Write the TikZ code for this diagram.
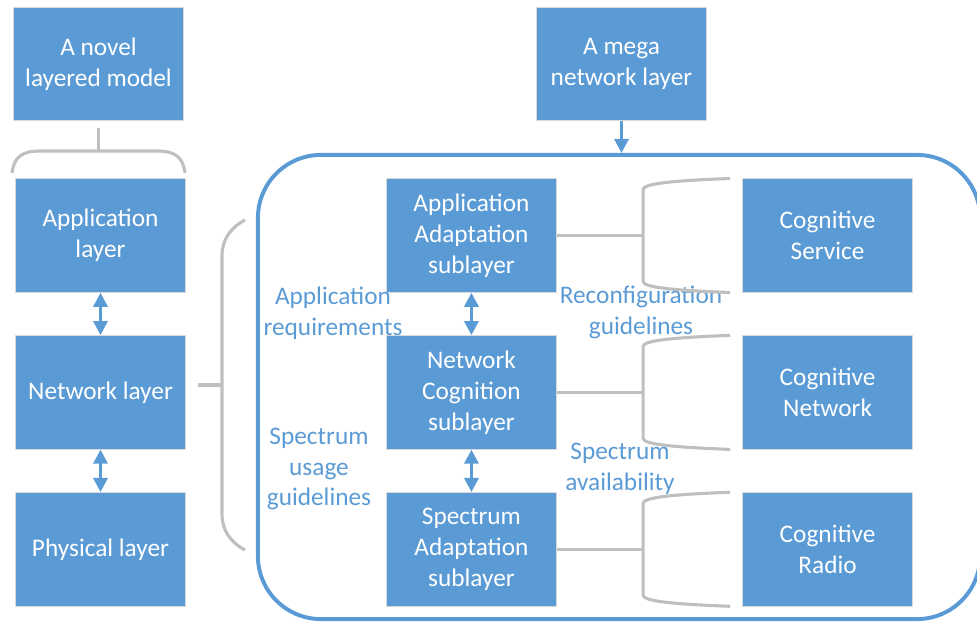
\documentclass[tikz,border=0pt]{standalone}
\usepackage{fontspec}
\setmainfont{Carlito}
\usetikzlibrary{positioning, calc}
\usetikzlibrary{arrows.meta}

\begin{document}
\begin{tikzpicture}[x=0.025cm, y=-0.025cm, node distance=1.06cm, font=\fontsize{18}{22}\selectfont, align=center, >={Triangle[width=10pt,length=10pt]}, line width=2.2pt,
    layerbox/.style={draw=gray!30, line width=0.6pt, fill=boxblue, text=white, minimum width=4.26cm, minimum height=2.84cm},
    note/.style={text=boxblue}]
        % Define colors
        \definecolor{boxblue}{RGB}{91,155,213}
        \definecolor{bracegray}{RGB}{191,191,191}

        \useasboundingbox (0,0) rectangle (977,622);

        % Frame of the mega layer
        \node[draw=boxblue, line width=2.8pt, rounded corners=1.575cm, minimum width=18.05cm, minimum height=11.6cm] (frame) at (619,387) {};

        % Nodes
        \node[layerbox] (novel) at (98.5,64) {A novel\\layered model};
        \node[layerbox] (mega) at (621.5,64) {A mega\\network layer};

        \node[layerbox] (applayer) at (100.5,235.5) {Application\\layer};
        \node[layerbox, below=of applayer] (netlayer) {Network layer};
        \node[layerbox, below=of netlayer] (phylayer) {Physical layer};

        \node[layerbox, right=4.99cm of applayer] (appsub) {Application\\Adaptation\\sublayer};
        \node[layerbox, below=of appsub] (netsub) {Network\\Cognition\\sublayer};
        \node[layerbox, below=of netsub] (specsub) {Spectrum\\Adaptation\\sublayer};

        \node[layerbox, right=4.62cm of appsub] (cogserv) {Cognitive\\Service};
        \node[layerbox, below=of cogserv] (cognet) {Cognitive\\Network};
        \node[layerbox, below=of cognet] (cogradio) {Cognitive\\Radio};

        % Labels
        \node[note] (appreq) at (333,313) {Application\\requirements};
        \node[note] (specusage) at (319,469) {Spectrum\\usage\\guidelines};
        \node[note] (reconf) at (641,312) {Reconfiguration\\guidelines};
        \node[note] (specavail) at (620,469) {Spectrum\\availability};

        % Edges
        \foreach \a/\b in {applayer/netlayer, netlayer/phylayer, appsub/netsub, netsub/specsub} {
            \draw[<->, boxblue] (\a) -- (\b);
        }
        \draw[->, boxblue] (mega) -- (mega |- frame.north);

        % Braces
        \coordinate (topbrace) at (98.5,151);
        \draw[bracegray, shorten <=0.175cm] (novel.south) -- (topbrace);
        \draw[bracegray] (12,173) .. controls (14,157) and (22,151) .. (40,151) -- (157,151) .. controls (175,151) and (183,157) .. (185,173);

        \coordinate (leftbrace) at (222,385);
        \draw[bracegray, shorten <=0.3cm] (netlayer.east |- leftbrace) -- (leftbrace);
        \draw[bracegray] (245,220) .. controls (230,228) and (222,240) .. (222,256) -- (222,514) .. controls (222,530) and (230,542) .. (245,550);

        \foreach \s in {appsub, netsub, specsub} {
            \coordinate (m) at ($(\s.east)+(86,0)$);
            \draw[bracegray] (\s.east) -- (m);
            \draw[bracegray] (m) ++(87,-57) .. controls +(-55,2) and +(0,-6) .. ++(-87,11) -- ++(0,92) .. controls +(0,6) and +(-55,-2) .. ++(87,11);
        }
    \end{tikzpicture}
\end{document}
